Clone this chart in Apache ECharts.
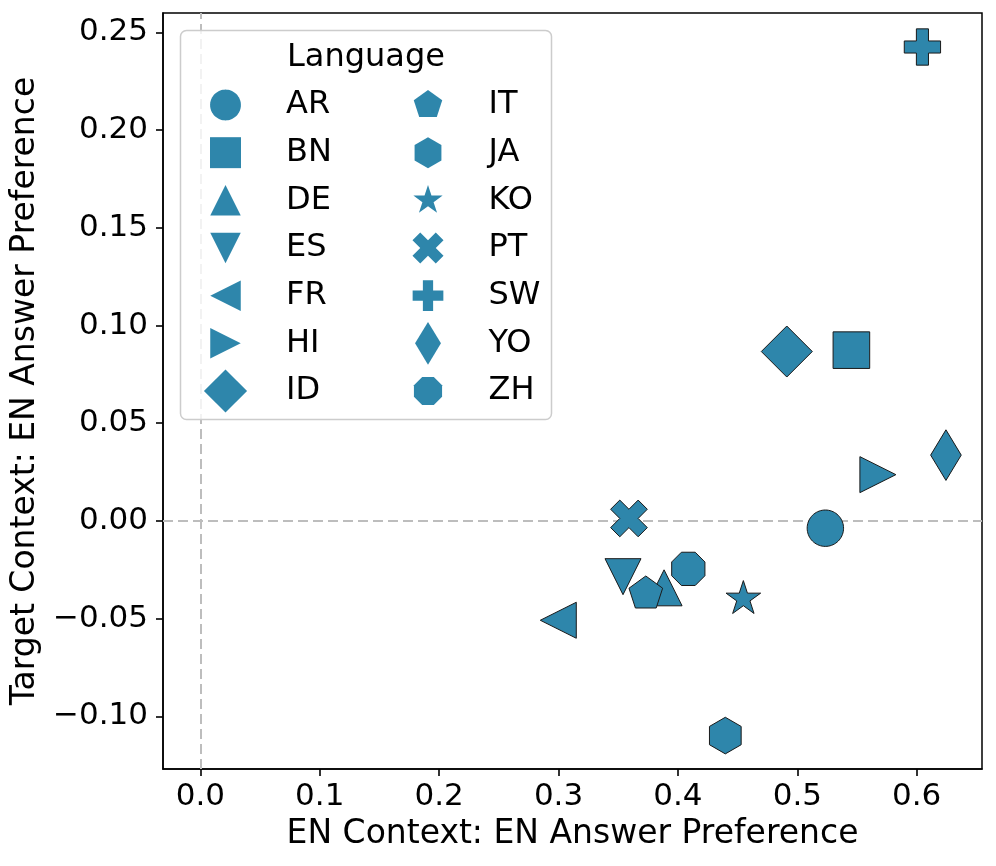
<!DOCTYPE html>
<html>
<head>
<meta charset="utf-8">
<script src="https://cdn.jsdelivr.net/npm/echarts@6.0.0/dist/echarts.min.js"></script>
<style>
  html, body { margin: 0; padding: 0; background: #ffffff; }
  #chart { width: 996px; height: 866px; }
</style>
</head>
<body>
<div id="chart"></div>
<script>
// ---- data ----
const languages = ['AR', 'BN', 'DE', 'ES', 'FR', 'HI', 'ID', 'IT', 'JA', 'KO', 'PT', 'SW', 'YO', 'ZH'];
const enContextPref = [0.5235, 0.5453, 0.3884, 0.3540, 0.2998, 0.5675, 0.4912, 0.3731, 0.4397, 0.4548, 0.3590, 0.6048, 0.6245, 0.4087];
const targetContextPref = [-0.0037, 0.0874, -0.0342, -0.0285, -0.0508, 0.0237, 0.0867, -0.0372, -0.1098, -0.0398, 0.0013, 0.2425, 0.0337, -0.0245];
const xTicks = [0.0, 0.1, 0.2, 0.3, 0.4, 0.5, 0.6];
const yTicks = [-0.10, -0.05, 0.00, 0.05, 0.10, 0.15, 0.20, 0.25];
const legendCol1 = ['AR', 'BN', 'DE', 'ES', 'FR', 'HI', 'ID'];
const legendCol2 = ['IT', 'JA', 'KO', 'PT', 'SW', 'YO', 'ZH'];

// ---- marker shapes (drawn in a common 52px frame so plot and legend scale alike) ----
const FRAME = 26;
function poly(pts) {
  let d = 'path://M' + (-FRAME) + ' ' + (-FRAME) + ' M' + FRAME + ' ' + FRAME + ' ';
  d += 'M' + pts.map(p => p[0].toFixed(2) + ' ' + p[1].toFixed(2)).join(' L') + ' Z';
  return d;
}
function regular(n, r, startDeg) {
  const pts = [];
  for (let k = 0; k < n; k++) {
    const a = (startDeg + k * 360 / n) * Math.PI / 180;
    pts.push([r * Math.cos(a), r * Math.sin(a)]);
  }
  return pts;
}
function star(R, ri) {
  const pts = [];
  for (let k = 0; k < 10; k++) {
    const a = (-90 + k * 36) * Math.PI / 180;
    const r = k % 2 === 0 ? R : ri;
    pts.push([r * Math.cos(a), r * Math.sin(a)]);
  }
  return pts;
}
const xs = 36.7 / 4;
const xFilled = [[-1,-2],[0,-1],[1,-2],[2,-1],[1,0],[2,1],[1,2],[0,1],[-1,2],[-2,1],[-1,0],[-2,-1]].map(p => [p[0]*xs, p[1]*xs]);
const ps = 36.3;
const plusFilled = [[1/3,0],[2/3,0],[2/3,1/3],[1,1/3],[1,2/3],[2/3,2/3],[2/3,1],[1/3,1],[1/3,2/3],[0,2/3],[0,1/3],[1/3,1/3]].map(p => [(p[0]-0.5)*ps, (p[1]-0.5)*ps]);
const shapes = {
  AR: poly(regular(72, 18.2, 0)),
  BN: poly([[-18.3,-18.3],[18.3,-18.3],[18.3,18.3],[-18.3,18.3]]),
  DE: poly([[0,-18],[18,18],[-18,18]]),
  ES: poly([[0,18],[-18,-18],[18,-18]]),
  FR: poly([[-18,0],[18,-18],[18,18]]),
  HI: poly([[18,0],[-18,18],[-18,-18]]),
  ID: poly([[0,-25.5],[25.5,0],[0,25.5],[-25.5,0]]),
  IT: poly(regular(5, 17.7, -90)),
  JA: poly(regular(6, 18.3, -90)),
  KO: poly(star(18.2, 18.2 * 0.381966)),
  PT: poly(xFilled),
  SW: poly(plusFilled),
  YO: poly([[0,-25.3],[15.3,0],[0,25.3],[-15.3,0]]),
  ZH: poly(regular(8, 18.0, 22.5))
};

const FILL = '#2E86AB';
const FONT = 'DejaVu Sans';

const series = languages.map((lang, i) => ({
  name: lang,
  type: 'scatter',
  data: [[enContextPref[i], targetContextPref[i]]],
  symbol: shapes[lang],
  symbolSize: 52,
  symbolKeepAspect: true,
  itemStyle: { color: FILL, borderColor: '#1a1a1a', borderWidth: 1, opacity: 1 },
  emphasis: { disabled: true },
  z: 3
}));
series[0].markLine = {
  silent: true,
  symbol: ['none', 'none'],
  z: 1,
  label: { show: false },
  lineStyle: { color: '#bdbdbd', width: 2, type: [10, 5] },
  emphasis: { disabled: true },
  data: [{ xAxis: 0 }, { yAxis: 0 }]
};

function legendFor(names, left, pad) {
  return {
    data: names,
    orient: 'vertical',
    left: left,
    top: 83,
    padding: 0,
    itemWidth: 44,
    itemHeight: 44,
    itemGap: 3.67,
    selectedMode: false,
    symbolKeepAspect: true,
    itemStyle: { borderWidth: 0, color: FILL },
    textStyle: { fontFamily: FONT, fontSize: 32, color: '#000', padding: [0, 0, 0, pad] },
    z: 20
  };
}

const axisLineStyle = { show: true, onZero: false, lineStyle: { color: '#000', width: 1.5 } };

const option = {
  backgroundColor: '#ffffff',
  animation: false,
  grid: { left: 163, top: 13, width: 819, height: 756, show: true, borderColor: '#000', borderWidth: 1.5, backgroundColor: 'transparent', containLabel: false, outerBoundsMode: 'none' },
  xAxis: {
    type: 'value',
    min: -0.0313,
    max: 0.6547,
    name: 'EN Context: EN Answer Preference',
    nameLocation: 'middle',
    nameGap: 49,
    nameTextStyle: { fontFamily: FONT, fontSize: 33, color: '#000' },
    axisLine: axisLineStyle,
    splitLine: { show: false },
    axisTick: { show: true, inside: false, length: 7, lineStyle: { color: '#000', width: 1.6 }, customValues: xTicks },
    axisLabel: { fontFamily: FONT, fontSize: 31, color: '#000', margin: 12, customValues: xTicks, formatter: v => v.toFixed(1) }
  },
  yAxis: {
    type: 'value',
    min: -0.1269,
    max: 0.2599,
    name: 'Target Context: EN Answer Preference',
    nameLocation: 'middle',
    nameRotate: 90,
    nameGap: 104,
    nameTextStyle: { fontFamily: FONT, fontSize: 33, color: '#000' },
    axisLine: axisLineStyle,
    splitLine: { show: false },
    axisTick: { show: true, inside: false, length: 7, lineStyle: { color: '#000', width: 1.6 }, customValues: yTicks },
    axisLabel: { fontFamily: FONT, fontSize: 31, color: '#000', margin: 15, customValues: yTicks,
      formatter: v => (v < -1e-9 ? '\u2212' : '') + Math.abs(v).toFixed(2) }
  },
  legend: [legendFor(legendCol1, 203.5, 33.5), legendFor(legendCol2, 406, 33.5)],
  graphic: [
    { type: 'rect', z: 10, silent: true, shape: { x: 180.5, y: 30.5, width: 371, height: 389, r: 6 },
      style: { fill: 'rgba(255,255,255,0.8)', stroke: '#cccccc', lineWidth: 1.5 } },
    { type: 'text', z: 11, silent: true, x: 366, y: 58,
      style: { text: 'Language', font: '32px "DejaVu Sans"', fill: '#000', align: 'center', verticalAlign: 'middle' } }
  ],
  series: series
};

const chart = echarts.init(document.getElementById('chart'), null, { renderer: 'canvas' });
chart.setOption(option);
</script>
</body>
</html>
